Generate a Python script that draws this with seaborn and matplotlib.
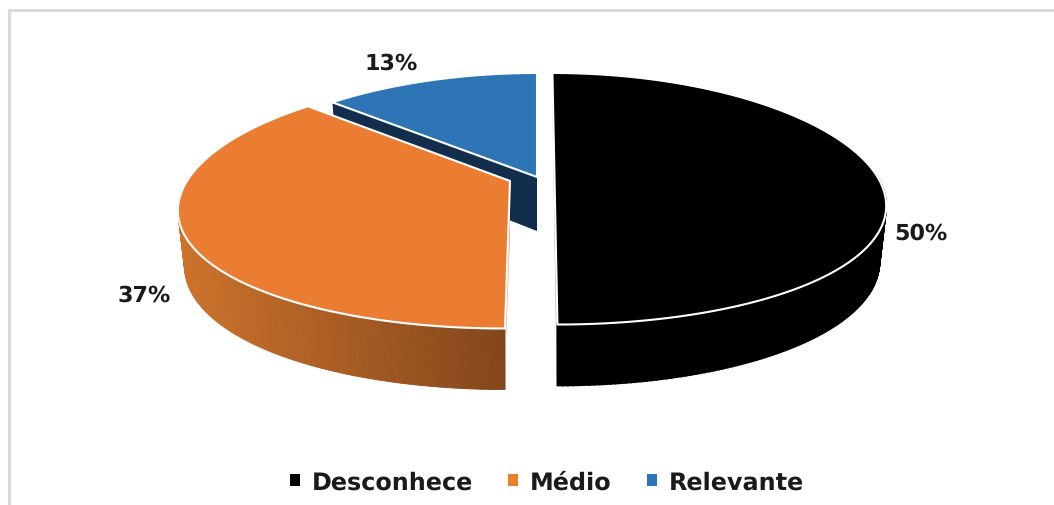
import numpy as np
import matplotlib
matplotlib.use("Agg")
import matplotlib.pyplot as plt
from matplotlib.colors import to_rgb
from matplotlib.patches import Patch, Polygon
import seaborn as sns

# Survey shares
categories = ["Desconhece", "Médio", "Relevante"]
shares = [50, 37, 13]
slice_colors = ["#000000", "#EA7D31", "#2E75B6"]
label_positions = [(921, 234), (144, 296), (391, 64)]

# Exploded slice centres and the per-slice lean of the projection
APEX = {"Desconhece": (554.5, 178), "Médio": (510, 182), "Relevante": (537, 178)}
LEAN = {"Desconhece": 0.02, "Médio": -0.034, "Relevante": 0.0}

# Projection constants for the tilted disc
RX, RY = 323, 122
PERSP_X, PERSP_Y, PERSP_Z = 0.22, 0.173, 0.115
THICK = 54
BASE_SHRINK = 0.98


def project(name, t, r=1.0, lower=False):
    """Map clockwise-from-top angle and radius on the disc to canvas pixels."""
    ax0, ay0 = APEX[name]
    u, v = r * np.sin(t), r * np.cos(t)
    x = RX * u / (1 + PERSP_X * v)
    y = -RY * v / (1 + PERSP_Y * v)
    x = x + LEAN[name] * y
    if lower:
        x = x * BASE_SHRINK
        y = y + THICK / (1 + PERSP_Z * v)
    return ax0 + x, ay0 + y


def draw_wall(name, shade_at, seam=0.6):
    """Fill the near part of a slice's outer wall as narrow quads."""
    t0, t1 = spans[name]
    steps = np.linspace(t0, t1, 240)
    for a, b in zip(steps[:-1], steps[1:]):
        if np.cos(a) > 0.05:  # the far side sits behind the top face
            continue
        shade = shade_at(project(name, b)[0])
        quad = [project(name, a), project(name, b),
                project(name, b, 1, True), project(name, a, 1, True)]
        ax.add_patch(Polygon(np.array(quad), closed=True, fc=shade, ec=shade, lw=seam, zorder=2))


sns.set_theme(style="white", rc={"font.family": "DejaVu Sans", "text.hinting": "none"})
fig = plt.figure(figsize=(10.54, 5.06), dpi=100)
ax = fig.add_axes([0, 0, 1, 1])
ax.set_xlim(0, 1054)
ax.set_ylim(506, 0)
ax.axis("off")

# Chart-area frame: only the top and left borders are in view
ax.plot([9, 9, 1054], [506, 11, 11], color="#D9D9D9", lw=2.2, solid_joinstyle="miter", zorder=0)

palette = sns.color_palette(slice_colors)
cuts = np.cumsum([0] + shares) / sum(shares) * 2 * np.pi
spans = {c: (cuts[i], cuts[i + 1]) for i, c in enumerate(categories)}

# Relevante: the dark cut face runs behind the orange slice
t0, t1 = spans["Relevante"]
face = [project("Relevante", t0), project("Relevante", t0, 0),
        project("Relevante", t0, 0, True), project("Relevante", t0, 1, True)]
ax.add_patch(Polygon(np.array(face), closed=True, fc="#132E4C", ec="none", zorder=1))

# Médio: side wall shaded from mid orange to dark brown
light, dark = np.array(to_rgb("#CC722B")), np.array(to_rgb("#82451A"))
draw_wall("Médio", lambda x: light + (dark - light) * np.clip((x - 180) / (505 - 180), 0, 1))

# Médio: thin sliver of the cut face on the right
sliver = np.array([project("Médio", np.pi, 0), project("Médio", np.pi),
                   project("Médio", np.pi, 1, True), project("Médio", np.pi, 0, True)])
sliver[2] = sliver[1] + (sliver[2] - sliver[1]) * 0.6
ax.add_patch(Polygon(sliver, closed=True, fc="#DDA27A", ec="none", zorder=2.5))

# Desconhece: side wall, then the grey hairline of its cut face
draw_wall("Desconhece", lambda x: palette[0], seam=1.2)
ax.plot(*zip(project("Desconhece", 0, 0.72), project("Desconhece", np.pi, 1, True)),
        color="#A6A6A6", lw=0.9, zorder=1.5)

# Top faces of all three slices, outlined in white
for name, color in zip(categories, palette):
    t0, t1 = spans[name]
    arc = np.linspace(t0, t1, 200)
    top = [project(name, a) for a in arc] + [project(name, 0, 0)]
    ax.add_patch(Polygon(np.array(top), closed=True, fc=color, ec="white", lw=1.5,
                         joinstyle="round", zorder=3))

# Percentage labels
for share, (lx, ly) in zip(shares, label_positions):
    ax.text(lx, ly, f"{share}%", ha="center", va="center", fontsize=16, fontweight="bold",
            color="#1A1A1A", zorder=4)

# Legend along the bottom edge
handles = [Patch(fc=c, ec="none", label=n) for c, n in zip(palette, categories)]
leg = ax.legend(handles=handles, ncol=3, loc="center", bbox_to_anchor=(547 / 1054, 1 - 483 / 506),
                frameon=False, handlelength=0.4, handleheight=0.4, handletextpad=0.5,
                columnspacing=1.48, prop={"size": 17.2, "weight": "bold"}, labelcolor="#1A1A1A")

fig.savefig("out.png", dpi=100, facecolor="white")
